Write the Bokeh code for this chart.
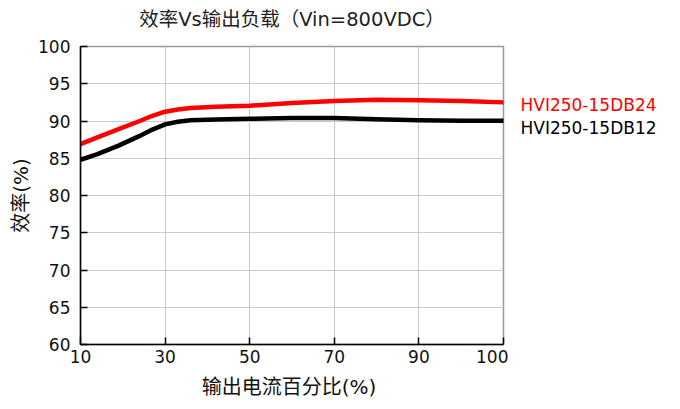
import numpy as np
from bokeh.plotting import figure
from bokeh.layouts import row, column
from bokeh.models import FixedTicker, Range1d
from bokeh.core.properties import value
from bokeh.embed import file_html
from bokeh.resources import INLINE

# ---- data ----
title_text = "效率Vs输出负载（Vin=800VDC）"
x_title = "输出电流百分比(%)"
y_title = "效率(%)"
tick_loads = [10, 30, 50, 70, 90, 100]
tick_labels = ["10", "30", "50", "70", "90", "100"]
y_ticks = [60, 65, 70, 75, 80, 85, 90, 95, 100]

load = [10, 14, 19, 24, 27, 30, 33, 36, 42, 50, 60, 70, 80, 90, 95, 100]
eff_db24 = [86.9, 87.8, 88.9, 90.0, 90.7, 91.25, 91.55, 91.75, 91.9, 92.05, 92.4, 92.7, 92.85, 92.8, 92.7, 92.5]
eff_db12 = [84.8, 85.55, 86.7, 88.0, 88.85, 89.55, 89.9, 90.1, 90.2, 90.3, 90.4, 90.4, 90.25, 90.1, 90.05, 90.05]

series_names = ["HVI250-15DB24", "HVI250-15DB12"]
series_colors = ["#ff0000", "#000000"]
name_y = [92.1, 89.0]

# the x axis uses evenly spaced tick positions for the listed loads
tick_pos = list(range(len(tick_loads)))
x_pos = np.interp(load, tick_loads, tick_pos)

FONT = "DejaVu Sans, Noto Sans CJK SC"

HEAD = 36
TOP, BOTTOM = 10, 26
H = 344 - HEAD + BOTTOM
FOOT = 401 - HEAD - H
LEFT = 80
W1 = 508
FRAME_MID = LEFT + (W1 - 5 - LEFT) / 2
yr = Range1d(60, 100)


def blank(width, height, xr, yrng):
    f = figure(width=width, height=height, output_backend="svg", toolbar_location=None,
               x_range=xr, y_range=yrng, x_axis_type=None, y_axis_type=None, min_border=0)
    f.outline_line_color = None
    f.grid.visible = False
    return f


# ---- header with the chart title ----
t = blank(664, HEAD, Range1d(0, 664), Range1d(HEAD, 0))
t.text(x=[FRAME_MID], y=[19], text=[title_text], text_color="#222222",
       text_font=value(FONT), text_font_size="19.5px", text_baseline="middle", text_align="center")

# ---- main plot ----
p = figure(width=W1, height=H, output_backend="svg", toolbar_location=None,
           x_range=Range1d(0, 5), y_range=yr,
           min_border_left=LEFT, min_border_right=5, min_border_top=TOP, min_border_bottom=BOTTOM)

for eff, c in zip([eff_db24, eff_db12], series_colors):
    p.line(x_pos, eff, line_color=c, line_width=4.5, line_join="round", line_cap="round")

p.xaxis.ticker = FixedTicker(ticks=tick_pos)
p.xaxis.major_label_overrides = {i: t_ for i, t_ in zip(tick_pos, tick_labels)}
p.yaxis.ticker = FixedTicker(ticks=y_ticks)

for ax in [p.xaxis[0], p.yaxis[0]]:
    ax.axis_line_color = "#000000"
    ax.axis_line_width = 1.5
    ax.major_tick_in = 7
    ax.major_tick_out = 0
    ax.major_tick_line_color = "#000000"
    ax.major_tick_line_width = 1.5
    ax.minor_tick_line_color = None
    ax.major_label_text_font = FONT
    ax.major_label_text_font_size = "17px"
    ax.major_label_text_color = "#111111"
    ax.axis_label_text_font = FONT
    ax.axis_label_text_font_size = "20px"
    ax.axis_label_text_font_style = "normal"
    ax.axis_label_text_color = "#111111"

p.yaxis.axis_label = y_title
p.xaxis.major_label_standoff = 5
p.yaxis.major_label_standoff = 10
p.yaxis.axis_label_standoff = 2

p.xgrid.ticker = FixedTicker(ticks=tick_pos)
p.grid.grid_line_color = "#c8c8c8"
p.grid.grid_line_width = 1
p.outline_line_color = "#999999"
p.outline_line_width = 1.5
p.background_fill_color = "white"
p.border_fill_color = "white"

# ---- right-hand panel with the series names, sharing the y scale ----
q = figure(width=664 - W1, height=H, output_backend="svg", toolbar_location=None,
           x_range=Range1d(0, 664 - W1), y_range=yr, x_axis_type=None, y_axis_type=None,
           min_border_left=0, min_border_right=0, min_border_top=TOP, min_border_bottom=BOTTOM)
q.outline_line_color = None
q.grid.visible = False
q.text(x=[12, 12], y=name_y, text=series_names, text_color=series_colors,
       text_font=value(FONT), text_font_size="17px", text_baseline="middle", text_align="left")

# ---- footer with the x-axis title ----
b = blank(664, FOOT, Range1d(0, 664), Range1d(FOOT, 0))
b.text(x=[FRAME_MID - 3], y=[FOOT - 15], text=[x_title], text_color="#111111",
       text_font=value(FONT), text_font_size="20px", text_baseline="middle", text_align="center")

layout = column(t, row(p, q, spacing=0), b, spacing=0)
open("out.html", "w").write(file_html(layout, INLINE))
